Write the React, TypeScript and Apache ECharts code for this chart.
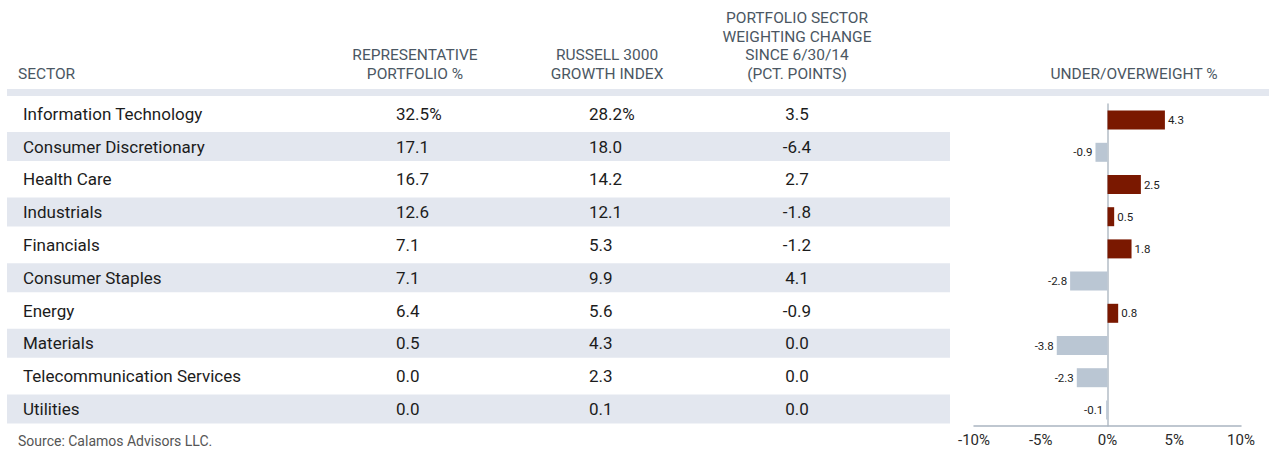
import React, { useEffect, useRef } from 'react';
import * as echarts from 'echarts';

const sectors = [
  'Information Technology',
  'Consumer Discretionary',
  'Health Care',
  'Industrials',
  'Financials',
  'Consumer Staples',
  'Energy',
  'Materials',
  'Telecommunication Services',
  'Utilities',
];
const portfolioPct = [32.5, 17.1, 16.7, 12.6, 7.1, 7.1, 6.4, 0.5, 0.0, 0.0];
const russellPct = [28.2, 18.0, 14.2, 12.1, 5.3, 9.9, 5.6, 4.3, 2.3, 0.1];
const weightingChange = [3.5, -6.4, 2.7, -1.8, -1.2, 4.1, -0.9, 0.0, 0.0, 0.0];
const underOver = [4.3, -0.9, 2.5, 0.5, 1.8, -2.8, 0.8, -3.8, -2.3, -0.1];
const stripeRows = [false, true, false, true, false, true, false, true, false, true];

const headerSector = ['SECTOR'];
const headerPortfolio = ['REPRESENTATIVE', 'PORTFOLIO %'];
const headerRussell = ['RUSSELL 3000', 'GROWTH INDEX'];
const headerChange = ['PORTFOLIO SECTOR', 'WEIGHTING CHANGE', 'SINCE 6/30/14', '(PCT. POINTS)'];
const headerUnderOver = ['UNDER/OVERWEIGHT %'];
const sourceText = 'Source: Calamos Advisors LLC.';

const FONT = 'Roboto, "Open Sans", sans-serif';
const RED = '#7a1800';
const GREY_BAR = '#bac6d3';
const STRIPE = '#e3e7ef';
const HEAD_COLOR = '#4b5763';

const fmtPct = (v: number, i: number) => (i === 0 ? v.toFixed(1) + '%' : v.toFixed(1));

export default function App() {
  const ref = useRef<HTMLDivElement>(null);

  useEffect(() => {
    document.body.style.margin = '0';
    if (!ref.current) return;
    const chart = echarts.init(ref.current, undefined, { renderer: 'svg' });

    const lineYs = [18, 36.5, 55, 73.5];
    const headerTexts: any[] = [];
    const addHeader = (lines: string[], x: number, align: string) => {
      const start = 4 - lines.length;
      lines.forEach((t, k) => {
        headerTexts.push({
          type: 'text',
          x,
          y: lineYs[start + k],
          style: {
            text: t,
            fill: HEAD_COLOR,
            font: `15.5px ${FONT}`,
            align,
            verticalAlign: 'middle',
          },
        });
      });
    };
    addHeader(headerSector, 18, 'left');
    addHeader(headerPortfolio, 415, 'center');
    addHeader(headerRussell, 607, 'center');
    addHeader(headerChange, 797, 'center');
    addHeader(headerUnderOver, 1134, 'center');

    const tableAxis = (offset: number, formatter: any, align: string, margin: number) => ({
      type: 'category',
      gridIndex: 1,
      data: sectors,
      inverse: true,
      position: 'left',
      offset,
      axisLine: { show: false, onZero: false },
      axisTick: { show: false },
      splitLine: { show: false },
      axisLabel: {
        inside: true,
        interval: 0,
        margin,
        align,
        formatter,
        fontFamily: FONT,
        fontSize: 17,
        color: '#1c1c1c',
        padding: [10, 0, 0, 0],
      },
    });

    const option: any = {
      animation: false,
      grid: [
        { left: 974, width: 267, top: 104, height: 322 },
        { left: 7, width: 943, top: 97.3, height: 328 },
      ],
      xAxis: [
        {
          type: 'value',
          gridIndex: 0,
          min: -10,
          max: 10,
          interval: 5,
          axisLine: { show: true, onZero: false, lineStyle: { color: '#aab5c1', width: 1.5 } },
          axisTick: { show: false },
          splitLine: { show: false },
          axisLabel: {
            formatter: '{value}%',
            fontFamily: FONT,
            fontSize: 15,
            color: '#2a2a2a',
            margin: 6,
          },
        },
        {
          type: 'value',
          gridIndex: 1,
          min: 0,
          max: 1,
          show: false,
        },
      ],
      yAxis: [
        {
          type: 'category',
          gridIndex: 0,
          data: sectors,
          inverse: true,
          axisLine: { show: true, onZero: true, lineStyle: { color: '#b3bcc6', width: 1.5 } },
          axisTick: { show: false },
          axisLabel: { show: false },
          splitLine: { show: false },
        },
        tableAxis(0, (v: string) => v, 'left', 16),
        tableAxis(-389, (_v: string, i: number) => fmtPct(portfolioPct[i], i), 'left', 0),
        tableAxis(-582, (_v: string, i: number) => fmtPct(russellPct[i], i), 'left', 0),
        tableAxis(-790, (_v: string, i: number) => weightingChange[i].toFixed(1), 'center', 0),
      ],
      series: [
        {
          type: 'bar',
          xAxisIndex: 1,
          yAxisIndex: 1,
          barWidth: 29,
          silent: true,
          z: 0,
          itemStyle: { color: STRIPE },
          data: stripeRows.map((s) => (s ? 1 : '-')),
        },
        {
          type: 'bar',
          xAxisIndex: 0,
          yAxisIndex: 0,
          barWidth: 19,
          z: 3,
          data: underOver.map((v) => ({
            value: v,
            itemStyle: { color: v >= 0 ? RED : GREY_BAR },
            label: { position: v >= 0 ? 'right' : 'left' },
          })),
          label: {
            show: true,
            distance: 3,
            fontFamily: FONT,
            fontSize: 11.5,
            color: '#222',
            formatter: (p: any) => Number(p.value).toFixed(1),
          },
        },
      ],
      graphic: [
        {
          type: 'rect',
          shape: { x: 7, y: 89, width: 1262, height: 7 },
          style: { fill: STRIPE },
          silent: true,
        },
        ...headerTexts,
        {
          type: 'text',
          x: 18,
          y: 448,
          style: {
            text: sourceText,
            fill: '#555',
            font: `14px ${FONT}`,
            align: 'left',
            verticalAlign: 'bottom',
          },
        },
      ],
    };

    chart.setOption(option);
    return () => chart.dispose();
  }, []);

  return <div ref={ref} style={{ width: 1269, height: 449 }} />;
}
